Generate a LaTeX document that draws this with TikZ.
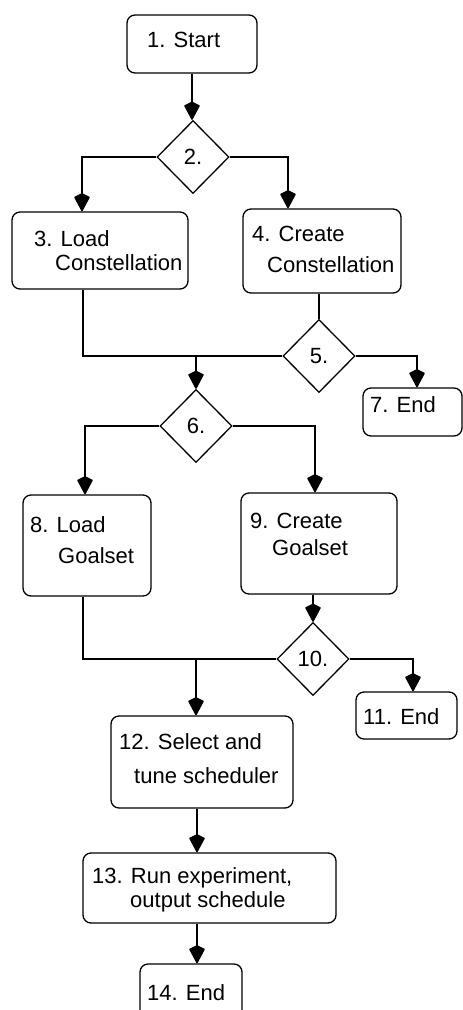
\documentclass[tikz,border=0pt]{standalone}
\usepackage{fontspec}
\setmainfont{Liberation Sans}
\usetikzlibrary{arrows.meta,shapes.geometric}
\tikzset{
  box/.style={draw, rectangle, rounded corners=8pt, inner sep=0pt, line width=1.3pt},
  dia/.style={draw, diamond, minimum width=72pt, minimum height=73pt, inner sep=0pt, line width=1.3pt},
  lbl/.style={anchor=base west, inner sep=0pt},
  conn/.style={line width=1.3pt},
  arr/.style={conn, -{Kite[length=19pt 0,width=16pt 0,inset=4pt 0,round]}}
}
\begin{document}
\begin{tikzpicture}[x=1pt,y=-1pt,font=\fontsize{22}{26}\selectfont]
\useasboundingbox (0,0) rectangle (463,1010);
\clip (0,0) rectangle (463,1010);
% boxes
\node[box, minimum width=130pt, minimum height=58pt] (b1) at (192,44) {};
\node[dia] (d2) at (193,157) {2.};
\node[box, minimum width=176pt, minimum height=77pt] (b3) at (100,250.5) {};
\node[box, minimum width=158pt, minimum height=84pt] (b4) at (322,251) {};
\node[dia] (d5) at (319,356) {5.};
\node[box, minimum width=99pt, minimum height=48pt] (b7) at (412.5,412) {};
\node[dia] (d6) at (196,426) {6.};
\node[box, minimum width=128pt, minimum height=101pt] (b8) at (87,545.5) {};
\node[box, minimum width=156pt, minimum height=101pt] (b9) at (319,543.5) {};
\node[dia] (d10) at (313,659) {10.};
\node[box, minimum width=101pt, minimum height=47pt] (b11) at (406.5,715.5) {};
\node[box, minimum width=182pt, minimum height=92pt] (b12) at (202,762) {};
\node[box, minimum width=253pt, minimum height=70pt] (b13) at (209.5,888) {};
\node[box, minimum width=102pt, minimum height=56pt] (b14) at (191,992) {};
% texts
\node[lbl] (t1) at (147,47) {1. Start};
\node[lbl] (t3a) at (34,246) {3. Load};
\node[lbl] (t3b) at (55,270) {Constellation};
\node[lbl] (t4a) at (252,241) {4. Create};
\node[lbl] (t4b) at (267,272) {Constellation};
\node[lbl] (t7) at (370,412) {7. End};
\node[lbl] (t8a) at (30,532) {8. Load};
\node[lbl] (t8b) at (58,563) {Goalset};
\node[lbl] (t9a) at (250,528) {9. Create};
\node[lbl] (t9b) at (272,555) {Goalset};
\node[lbl] (t11) at (363,724) {11. End};
\node[lbl] (t12a) at (119,749) {12. Select and};
\node[lbl] (t12b) at (134,783) {tune scheduler};
\node[lbl] (t13a) at (92,883) {13. Run experiment,};
\node[lbl] (t13b) at (130,907) {output schedule};
\node[lbl] (t14) at (147,1000) {14. End};
% connectors
\draw[arr] (b1.south) -- (b1.south |- d2.north);
\draw[arr] (d2.west) -| ([xshift=-18pt]b3.north);
\draw[arr] (d2.east) -| ([xshift=-34pt]b4.north);
\draw[conn] (d5.north |- b4.south) -- (d5.north);
\draw[conn] ([xshift=-17pt]b3.south) |- (d5.west);
\coordinate (j1) at (d6.north |- d5.west);
\draw[arr] (j1) -- (d6.north);
\draw[arr] (d5.east) -| ([xshift=4.5pt]b7.north);
\draw[arr] (d6.west) -| ([xshift=-2pt]b8.north);
\draw[arr] (d6.east) -| ([xshift=-4pt]b9.north);
\draw[arr] (d10.north |- b9.south) -- (d10.north);
\draw[conn] ([xshift=-4pt]b8.south) |- (d10.west);
\coordinate (j2) at ([xshift=-6pt]b12.north |- d10.west);
\draw[arr] (j2) -- ([xshift=-6pt]b12.north);
\draw[arr] (d10.east) -| ([xshift=6.5pt]b11.north);
\draw[arr] ([xshift=-5pt]b12.south) -- ([xshift=-12.5pt]b13.north);
\draw[arr] ([xshift=-12.5pt]b13.south) -- ([xshift=6pt]b14.north);
\end{tikzpicture}
\end{document}
